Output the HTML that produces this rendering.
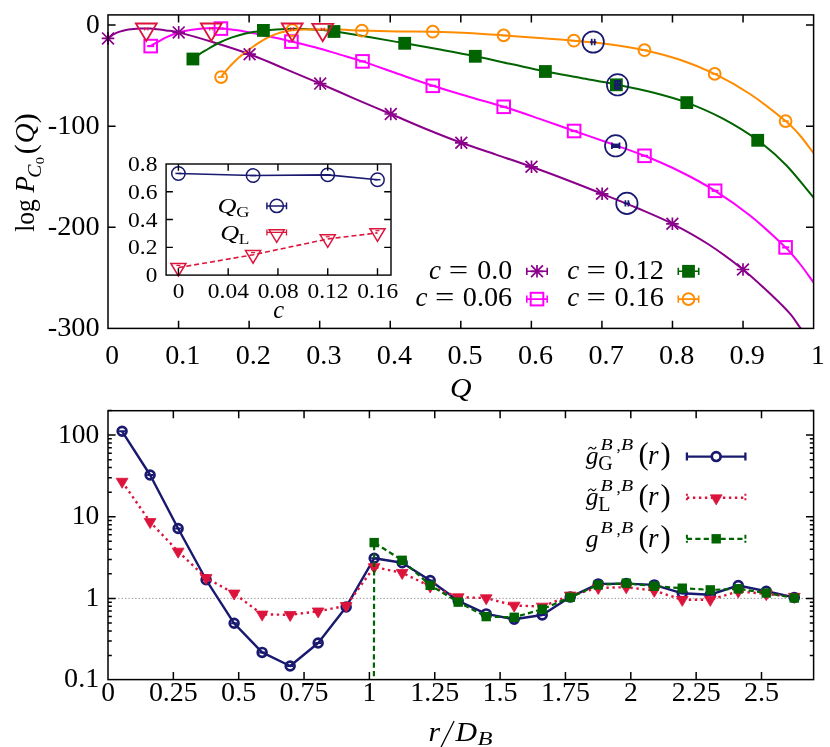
<!DOCTYPE html>
<html><head><meta charset="utf-8"><title>plot</title>
<style>html,body{margin:0;padding:0;background:#fff;}svg{display:block;will-change:transform;transform:translateZ(0);}text{font-family:"Liberation Serif",serif;fill:#000;}.it{font-style:italic;}</style></head><body>
<svg width="830" height="747" viewBox="0 0 830 747">
<rect x="0" y="0" width="830" height="747" fill="#fff"/>
<defs><clipPath id="ct"><rect x="108" y="14.9" width="705.6" height="313.5"/></clipPath>
<clipPath id="cb"><rect x="108" y="410.7" width="705.6" height="268.9"/></clipPath></defs>
<g clip-path="url(#ct)" fill="none" stroke-width="2.0" stroke-linecap="butt" stroke-linejoin="round">
<path d="M108,38.4 C109.67,37.13 111.33,35.59 113,34.6 C114.97,33.43 116.93,32.55 118.9,31.9 C122.1,30.85 125.3,30.01 128.5,29.5 C132.37,28.88 136.23,28.66 140.1,28.5 C143.4,28.36 146.7,28.45 150,28.6 C152.47,28.71 154.93,29.02 157.4,29.3 C160.3,29.62 163.2,29.98 166.1,30.4 C170.3,31.01 174.5,31.34 178.7,32.4 C190.47,35.37 202.23,38.88 214,42.5 C225.87,46.15 237.73,49.8 249.6,54.2 C261.4,58.57 273.2,63.89 285,68.8 C296.73,73.69 308.47,78.57 320.2,83.6 C331.8,88.57 343.4,93.81 355,98.8 C366.93,103.94 378.87,108.92 390.8,114 C402.53,118.99 414.27,124.21 426,129 C437.77,133.81 449.53,138.5 461.3,142.8 C472.87,147.03 484.43,150.65 496,154.6 C507.83,158.65 519.67,162.57 531.5,166.8 C543.33,171.03 555.17,175.47 567,180 C578.7,184.47 590.4,189.12 602.1,193.8 C613.73,198.45 625.37,203.04 637,208 C648.8,213.04 660.6,217.82 672.4,223.8 C684.27,229.82 696.13,236.32 708,244 C719.67,251.55 731.33,260.11 743,269.5 C752.67,277.28 762.33,286.41 772,295.5 C778,301.14 784,306.82 790,313.7 C793.57,317.79 797.13,323.59 800.7,328.4 C804.13,333.03 807.57,337.47 811,342" stroke="#8b008b"/>
<path d="M150.7,46.1 C152.13,45.2 153.57,44.22 155,43.4 C156.7,42.42 158.4,41.63 160.1,40.7 C162.1,39.6 164.1,38.17 166.1,37.3 C170.13,35.54 174.17,34 178.2,32.8 C182.2,31.6 186.2,30.8 190.2,30.1 C194.23,29.4 198.27,28.93 202.3,28.6 C206.3,28.27 210.3,28.14 214.3,28.1 C216.5,28.08 218.7,28.19 220.9,28.4 C226.53,28.93 232.17,29.44 237.8,30.3 C244.23,31.28 250.67,32.63 257.1,33.9 C263.53,35.17 269.97,36.49 276.4,37.9 C281.4,38.99 286.4,40.2 291.4,41.4 C299.27,43.3 307.13,45.06 315,47.2 C323.33,49.46 331.67,52.11 340,54.6 C347.5,56.84 355,58.91 362.5,61.4 C374,65.21 385.5,69.51 397,73.5 C408.93,77.64 420.87,81.93 432.8,85.8 C444.53,89.6 456.27,93.02 468,96.5 C479.9,100.02 491.8,103.1 503.7,106.8 C515.47,110.46 527.23,114.56 539,118.6 C550.7,122.62 562.4,126.92 574.1,131 C585.73,135.06 597.37,138.9 609,143 C620.83,147.17 632.67,151.05 644.5,155.8 C656.33,160.55 668.17,165.63 680,171.5 C691.7,177.3 703.4,183.45 715.1,190.8 C726.73,198.11 738.37,206.16 750,215.5 C761.87,225.03 773.73,235.89 785.6,247.4 C790.4,252.06 795.2,257.98 800,264 C804.53,269.68 809.07,276.33 813.6,282.5" stroke="#ff00ff"/>
<path d="M192.9,59 C194.77,57.6 196.63,56.07 198.5,54.8 C200.7,53.3 202.9,51.99 205.1,50.7 C209.6,48.06 214.1,45.22 218.6,43 C223.07,40.79 227.53,38.98 232,37.4 C236.5,35.81 241,34.58 245.5,33.5 C249.37,32.58 253.23,32.05 257.1,31.4 C259.2,31.05 261.3,30.67 263.4,30.5 C270.93,29.87 278.47,29.27 286,29 C292.43,28.77 298.87,28.8 305.3,29 C311.73,29.2 318.17,29.71 324.6,30.2 C327.73,30.44 330.87,30.72 334,31.2 C345.67,32.99 357.33,35 369,37 C380.9,39.04 392.8,41.19 404.7,43.3 C416.47,45.39 428.23,47.43 440,49.6 C451.77,51.77 463.53,53.91 475.3,56.3 C486.87,58.65 498.43,61.29 510,63.8 C521.8,66.36 533.6,69.14 545.4,71.5 C557.27,73.87 569.13,75.83 581,78 C592.97,80.19 604.93,82.19 616.9,84.6 C628.6,86.96 640.3,89.29 652,92.3 C663.6,95.29 675.2,98.31 686.8,102.6 C698.53,106.94 710.27,111.96 722,118.2 C733.9,124.53 745.8,131.6 757.7,140.3 C767.13,147.2 776.57,155.33 786,165 C795.2,174.43 804.4,186.73 813.6,197.6" stroke="#006400"/>
<path d="M221.1,77.1 C222.5,75.27 223.9,73.31 225.3,71.6 C226.9,69.64 228.5,67.79 230.1,66.1 C232.67,63.39 235.23,60.67 237.8,58.4 C240.7,55.84 243.6,53.78 246.5,51.6 C250.03,48.95 253.57,46.26 257.1,43.9 C260.3,41.76 263.5,39.76 266.7,38.1 C269.93,36.42 273.17,35.06 276.4,33.9 C279.6,32.76 282.8,31.94 286,31.2 C288.1,30.71 290.2,30.38 292.3,30.2 C296.53,29.84 300.77,29.65 305,29.6 C316.67,29.45 328.33,29.39 340,29.6 C347.3,29.73 354.6,30.37 361.9,30.6 C373.6,30.97 385.3,31.22 397,31.4 C408.93,31.59 420.87,31.43 432.8,31.7 C444.53,31.96 456.27,32.39 468,33 C479.87,33.62 491.73,34.56 503.6,35.4 C515.4,36.23 527.2,37.11 539,38 C550.63,38.88 562.27,39.65 573.9,40.7 C585.6,41.75 597.3,42.73 609,44.3 C620.83,45.89 632.67,47.62 644.5,50.2 C656.33,52.78 668.17,55.8 680,59.8 C691.57,63.7 703.13,68.25 714.7,73.9 C726.47,79.65 738.23,86.17 750,94 C761.87,101.9 773.73,111.25 785.6,121.1 C790.4,125.08 795.2,130 800,135.5 C804.53,140.7 809.07,147.3 813.6,153.2" stroke="#ff8c00"/>
</g>
<g>
<g stroke="#8b008b" stroke-width="1.7" fill="none"><path d="M108,32.1 V44.7 M101.7,38.4 H114.3 M102.08,32.48 L113.92,44.32 M102.08,44.32 L113.92,32.48"/></g>
<g stroke="#8b008b" stroke-width="1.7" fill="none"><path d="M178.7,26.1 V38.7 M172.4,32.4 H185 M172.78,26.48 L184.62,38.32 M172.78,38.32 L184.62,26.48"/></g>
<g stroke="#8b008b" stroke-width="1.7" fill="none"><path d="M249.6,47.9 V60.5 M243.3,54.2 H255.9 M243.68,48.28 L255.52,60.12 M243.68,60.12 L255.52,48.28"/></g>
<g stroke="#8b008b" stroke-width="1.7" fill="none"><path d="M320.2,77.3 V89.9 M313.9,83.6 H326.5 M314.28,77.68 L326.12,89.52 M314.28,89.52 L326.12,77.68"/></g>
<g stroke="#8b008b" stroke-width="1.7" fill="none"><path d="M390.8,107.7 V120.3 M384.5,114 H397.1 M384.88,108.08 L396.72,119.92 M384.88,119.92 L396.72,108.08"/></g>
<g stroke="#8b008b" stroke-width="1.7" fill="none"><path d="M461.3,136.5 V149.1 M455,142.8 H467.6 M455.38,136.88 L467.22,148.72 M455.38,148.72 L467.22,136.88"/></g>
<g stroke="#8b008b" stroke-width="1.7" fill="none"><path d="M531.5,160.5 V173.1 M525.2,166.8 H537.8 M525.58,160.88 L537.42,172.72 M525.58,172.72 L537.42,160.88"/></g>
<g stroke="#8b008b" stroke-width="1.7" fill="none"><path d="M602.1,187.5 V200.1 M595.8,193.8 H608.4 M596.18,187.88 L608.02,199.72 M596.18,199.72 L608.02,187.88"/></g>
<g stroke="#8b008b" stroke-width="1.7" fill="none"><path d="M672.4,217.5 V230.1 M666.1,223.8 H678.7 M666.48,217.88 L678.32,229.72 M666.48,229.72 L678.32,217.88"/></g>
<g stroke="#8b008b" stroke-width="1.7" fill="none"><path d="M743,263.2 V275.8 M736.7,269.5 H749.3 M737.08,263.58 L748.92,275.42 M737.08,275.42 L748.92,263.58"/></g>
<rect x="144.4" y="39.8" width="12.6" height="12.6" fill="none" stroke="#ff00ff" stroke-width="2.0"/><path d="M147.2,46.1 H154.2" stroke="#ff00ff" stroke-width="2.2" fill="none"/>
<rect x="214.6" y="22.3" width="12.6" height="12.6" fill="none" stroke="#ff00ff" stroke-width="2.0"/><path d="M217.4,28.6 H224.4" stroke="#ff00ff" stroke-width="2.2" fill="none"/>
<rect x="285.1" y="35.3" width="12.6" height="12.6" fill="none" stroke="#ff00ff" stroke-width="2.0"/><path d="M287.9,41.6 H294.9" stroke="#ff00ff" stroke-width="2.2" fill="none"/>
<rect x="356.2" y="55.1" width="12.6" height="12.6" fill="none" stroke="#ff00ff" stroke-width="2.0"/><path d="M359,61.4 H366" stroke="#ff00ff" stroke-width="2.2" fill="none"/>
<rect x="426.5" y="79.5" width="12.6" height="12.6" fill="none" stroke="#ff00ff" stroke-width="2.0"/><path d="M429.3,85.8 H436.3" stroke="#ff00ff" stroke-width="2.2" fill="none"/>
<rect x="497.4" y="100.5" width="12.6" height="12.6" fill="none" stroke="#ff00ff" stroke-width="2.0"/><path d="M500.2,106.8 H507.2" stroke="#ff00ff" stroke-width="2.2" fill="none"/>
<rect x="567.8" y="124.7" width="12.6" height="12.6" fill="none" stroke="#ff00ff" stroke-width="2.0"/><path d="M570.6,131 H577.6" stroke="#ff00ff" stroke-width="2.2" fill="none"/>
<rect x="638.2" y="149.5" width="12.6" height="12.6" fill="none" stroke="#ff00ff" stroke-width="2.0"/><path d="M641,155.8 H648" stroke="#ff00ff" stroke-width="2.2" fill="none"/>
<rect x="708.8" y="184.5" width="12.6" height="12.6" fill="none" stroke="#ff00ff" stroke-width="2.0"/><path d="M711.6,190.8 H718.6" stroke="#ff00ff" stroke-width="2.2" fill="none"/>
<rect x="779.3" y="241.1" width="12.6" height="12.6" fill="none" stroke="#ff00ff" stroke-width="2.0"/><path d="M782.1,247.4 H789.1" stroke="#ff00ff" stroke-width="2.2" fill="none"/>
<rect x="186.5" y="52.6" width="12.8" height="12.8" fill="#006400"/>
<rect x="257" y="24" width="12.8" height="12.8" fill="#006400"/>
<rect x="327.6" y="25.1" width="12.8" height="12.8" fill="#006400"/>
<rect x="398.3" y="36.9" width="12.8" height="12.8" fill="#006400"/>
<rect x="468.9" y="49.9" width="12.8" height="12.8" fill="#006400"/>
<rect x="539" y="65.1" width="12.8" height="12.8" fill="#006400"/>
<rect x="610" y="78.4" width="12.8" height="12.8" fill="#006400"/>
<rect x="680.4" y="96.2" width="12.8" height="12.8" fill="#006400"/>
<rect x="751.3" y="133.9" width="12.8" height="12.8" fill="#006400"/>
<circle cx="221.1" cy="77.1" r="5.9" fill="none" stroke="#ff8c00" stroke-width="2.0"/><path d="M217.9,77.1 H224.3" stroke="#ff8c00" stroke-width="1.6" fill="none"/>
<circle cx="292.3" cy="30.2" r="5.9" fill="none" stroke="#ff8c00" stroke-width="2.0"/><path d="M289.1,30.2 H295.5" stroke="#ff8c00" stroke-width="1.6" fill="none"/>
<circle cx="361.9" cy="30.7" r="5.9" fill="none" stroke="#ff8c00" stroke-width="2.0"/><path d="M358.7,30.7 H365.1" stroke="#ff8c00" stroke-width="1.6" fill="none"/>
<circle cx="432.8" cy="31.7" r="5.9" fill="none" stroke="#ff8c00" stroke-width="2.0"/><path d="M429.6,31.7 H436" stroke="#ff8c00" stroke-width="1.6" fill="none"/>
<circle cx="503.6" cy="35.4" r="5.9" fill="none" stroke="#ff8c00" stroke-width="2.0"/><path d="M500.4,35.4 H506.8" stroke="#ff8c00" stroke-width="1.6" fill="none"/>
<circle cx="573.9" cy="40.7" r="5.9" fill="none" stroke="#ff8c00" stroke-width="2.0"/><path d="M570.7,40.7 H577.1" stroke="#ff8c00" stroke-width="1.6" fill="none"/>
<circle cx="644.5" cy="50.2" r="5.9" fill="none" stroke="#ff8c00" stroke-width="2.0"/><path d="M641.3,50.2 H647.7" stroke="#ff8c00" stroke-width="1.6" fill="none"/>
<circle cx="714.7" cy="73.9" r="5.9" fill="none" stroke="#ff8c00" stroke-width="2.0"/><path d="M711.5,73.9 H717.9" stroke="#ff8c00" stroke-width="1.6" fill="none"/>
<circle cx="785.6" cy="121.1" r="5.9" fill="none" stroke="#ff8c00" stroke-width="2.0"/><path d="M782.4,121.1 H788.8" stroke="#ff8c00" stroke-width="1.6" fill="none"/>
</g>
<circle cx="593.2" cy="42" r="10.7" fill="none" stroke="#191970" stroke-width="1.7"/><path d="M590,42 H596.4 M591.7,38.8 V45.2 M594.7,38.8 V45.2" stroke="#191970" stroke-width="1.7" fill="none"/>
<circle cx="617.6" cy="84.8" r="10.7" fill="none" stroke="#191970" stroke-width="1.7"/><rect x="614.1" y="80" width="7.0" height="9.6" fill="#191970"/><rect x="615.7" y="81.9" width="1.2" height="1.8" fill="#006400" opacity="0.8"/><rect x="615.7" y="85.9" width="1.2" height="1.8" fill="#006400" opacity="0.8"/><rect x="618.3" y="81.9" width="1.2" height="1.8" fill="#006400" opacity="0.8"/><rect x="618.3" y="85.9" width="1.2" height="1.8" fill="#006400" opacity="0.8"/>
<circle cx="615.7" cy="145.8" r="10.7" fill="none" stroke="#191970" stroke-width="1.7"/><rect x="611.5" y="143.6" width="8.4" height="4.4" fill="#191970"/><path d="M611.9,142.5 V149.1 M619.5,142.5 V149.1" stroke="#191970" stroke-width="1.8" fill="none"/>
<circle cx="626.9" cy="203.4" r="10.7" fill="none" stroke="#191970" stroke-width="1.7"/><path d="M623.7,203.4 H630.1 M625.4,200.2 V206.6 M628.4,200.2 V206.6" stroke="#191970" stroke-width="1.7" fill="none"/>
<path d="M135.86,23.5 L156.74,23.5 L146.3,40.9 Z" fill="none" stroke="#dc143c" stroke-width="1.8" stroke-linejoin="miter"/><path d="M144.7,28.8 H147.9 M144.7,27.3 V30.7 M147.9,27.3 V30.7" stroke="#dc143c" stroke-width="1.0" fill="none" opacity="0.85"/>
<path d="M200.86,23.5 L221.74,23.5 L211.3,40.9 Z" fill="none" stroke="#dc143c" stroke-width="1.8" stroke-linejoin="miter"/><path d="M209.7,28.8 H212.9 M209.7,27.3 V30.7 M212.9,27.3 V30.7" stroke="#dc143c" stroke-width="1.0" fill="none" opacity="0.85"/>
<path d="M281.76,23.5 L302.64,23.5 L292.2,40.9 Z" fill="none" stroke="#dc143c" stroke-width="1.8" stroke-linejoin="miter"/><path d="M290.6,28.8 H293.8 M290.6,27.3 V30.7 M293.8,27.3 V30.7" stroke="#dc143c" stroke-width="1.0" fill="none" opacity="0.85"/>
<path d="M312.26,23.8 L333.14,23.8 L322.7,41.2 Z" fill="none" stroke="#dc143c" stroke-width="1.8" stroke-linejoin="miter"/><path d="M321.1,29.1 H324.3 M321.1,27.6 V31 M324.3,27.6 V31" stroke="#dc143c" stroke-width="1.0" fill="none" opacity="0.85"/>
<g stroke="#000" stroke-width="1.5" fill="none">
<rect x="108" y="14.9" width="705.6" height="313.5"/>
<path d="M178.56,328.4 V320.8 M178.56,14.9 V22.5 M249.12,328.4 V320.8 M249.12,14.9 V22.5 M319.68,328.4 V320.8 M319.68,14.9 V22.5 M390.24,328.4 V320.8 M390.24,14.9 V22.5 M460.8,328.4 V320.8 M460.8,14.9 V22.5 M531.36,328.4 V320.8 M531.36,14.9 V22.5 M601.92,328.4 V320.8 M601.92,14.9 V22.5 M672.48,328.4 V320.8 M672.48,14.9 V22.5 M743.04,328.4 V320.8 M743.04,14.9 V22.5 M108,25 H115.6 M813.6,25 H806 M108,126.13 H115.6 M813.6,126.13 H806 M108,227.27 H115.6 M813.6,227.27 H806 "/>
</g>
<text x="112.2" y="364" font-size="27.3" text-anchor="middle" textLength="13.75" lengthAdjust="spacingAndGlyphs">0</text>
<text x="182.76" y="364" font-size="27.3" text-anchor="middle" textLength="35.2" lengthAdjust="spacingAndGlyphs">0.1</text>
<text x="253.32" y="364" font-size="27.3" text-anchor="middle" textLength="35.2" lengthAdjust="spacingAndGlyphs">0.2</text>
<text x="323.88" y="364" font-size="27.3" text-anchor="middle" textLength="35.2" lengthAdjust="spacingAndGlyphs">0.3</text>
<text x="394.44" y="364" font-size="27.3" text-anchor="middle" textLength="35.2" lengthAdjust="spacingAndGlyphs">0.4</text>
<text x="465" y="364" font-size="27.3" text-anchor="middle" textLength="35.2" lengthAdjust="spacingAndGlyphs">0.5</text>
<text x="535.56" y="364" font-size="27.3" text-anchor="middle" textLength="35.2" lengthAdjust="spacingAndGlyphs">0.6</text>
<text x="606.12" y="364" font-size="27.3" text-anchor="middle" textLength="35.2" lengthAdjust="spacingAndGlyphs">0.7</text>
<text x="676.68" y="364" font-size="27.3" text-anchor="middle" textLength="35.2" lengthAdjust="spacingAndGlyphs">0.8</text>
<text x="747.24" y="364" font-size="27.3" text-anchor="middle" textLength="35.2" lengthAdjust="spacingAndGlyphs">0.9</text>
<text x="817.8" y="364" font-size="27.3" text-anchor="middle" textLength="13.75" lengthAdjust="spacingAndGlyphs">1</text>
<text x="99.7" y="32.8" font-size="27.3" text-anchor="end" textLength="13.75" lengthAdjust="spacingAndGlyphs">0</text>
<text x="99.7" y="133.93" font-size="27.3" text-anchor="end" textLength="51.95" lengthAdjust="spacingAndGlyphs">-100</text>
<text x="99.7" y="235.07" font-size="27.3" text-anchor="end" textLength="51.95" lengthAdjust="spacingAndGlyphs">-200</text>
<text x="99.7" y="336.2" font-size="27.3" text-anchor="end" textLength="51.95" lengthAdjust="spacingAndGlyphs">-300</text>
<text class="it" x="460.9" y="396.5" font-size="27.5" text-anchor="middle" textLength="21.6" lengthAdjust="spacingAndGlyphs">Q</text>
<g transform="translate(34.4,231.8) rotate(-90)"><text x="0" y="0" font-size="27" textLength="32.5" lengthAdjust="spacingAndGlyphs">log</text><text class="it" x="39.2" y="0" font-size="27">P</text><text class="it" x="54.0" y="6.4" font-size="18" textLength="13.2" lengthAdjust="spacingAndGlyphs">C</text><text x="67.6" y="9.6" font-size="12.5" textLength="7.2" lengthAdjust="spacingAndGlyphs">0</text><text x="77.6" y="0.6" font-size="30">(</text><text class="it" x="88.6" y="0" font-size="27.5">Q</text><text x="108.6" y="0.6" font-size="30">)</text></g>
<text class="it" x="429.1" y="278.8" font-size="27">c</text><text x="448.7" y="278.8" font-size="27" textLength="19.4" lengthAdjust="spacingAndGlyphs">=</text><text x="477.3" y="278.8" font-size="26.5" textLength="34.9" lengthAdjust="spacingAndGlyphs">0.0</text>
<text class="it" x="415.6" y="306" font-size="27">c</text><text x="434.9" y="306" font-size="27" textLength="19.4" lengthAdjust="spacingAndGlyphs">=</text><text x="462.8" y="306" font-size="26.5" textLength="49.4" lengthAdjust="spacingAndGlyphs">0.06</text>
<text class="it" x="567.3" y="278.8" font-size="27">c</text><text x="586.6" y="278.8" font-size="27" textLength="19.4" lengthAdjust="spacingAndGlyphs">=</text><text x="614.5" y="278.8" font-size="26.5" textLength="49.4" lengthAdjust="spacingAndGlyphs">0.12</text>
<text class="it" x="567.3" y="306" font-size="27">c</text><text x="586.6" y="306" font-size="27" textLength="19.4" lengthAdjust="spacingAndGlyphs">=</text><text x="614.5" y="306" font-size="26.5" textLength="49.4" lengthAdjust="spacingAndGlyphs">0.16</text>
<path d="M526.8,271.3 H547.2 M526.8,267.7 V274.9 M547.2,267.7 V274.9" stroke="#8b008b" stroke-width="1.6" fill="none"/>
<g stroke="#8b008b" stroke-width="1.7" fill="none"><path d="M537,265 V277.6 M530.7,271.3 H543.3 M531.08,265.38 L542.92,277.22 M531.08,277.22 L542.92,265.38"/></g>
<path d="M526.8,299.1 H547.2 M526.8,295.5 V302.7 M547.2,295.5 V302.7" stroke="#ff00ff" stroke-width="1.6" fill="none"/>
<rect x="530.7" y="292.8" width="12.6" height="12.6" fill="none" stroke="#ff00ff" stroke-width="2.0"/>
<path d="M678.3,271.3 H698.7 M678.3,267.7 V274.9 M698.7,267.7 V274.9" stroke="#006400" stroke-width="1.6" fill="none"/>
<rect x="682.1" y="264.9" width="12.8" height="12.8" fill="#006400"/>
<path d="M678.3,299.1 H698.7 M678.3,295.5 V302.7 M698.7,295.5 V302.7" stroke="#ff8c00" stroke-width="1.6" fill="none"/>
<circle cx="688.5" cy="299.1" r="5.9" fill="none" stroke="#ff8c00" stroke-width="2.0"/>
<rect x="166.1" y="164" width="224.9" height="111.1" fill="#fff" stroke="none"/>
<path d="M178.4,173.44 L253.06,175.53 L327.73,174.83 L377.5,179.69" stroke="#191970" stroke-width="1.6" fill="none"/>
<path d="M178.4,267.6 L253.06,254.82 L327.73,238.99 L377.5,232.88" stroke="#dc143c" stroke-width="1.6" fill="none" stroke-dasharray="5,3"/>
<circle cx="178.4" cy="173.44" r="6.7" fill="none" stroke="#191970" stroke-width="1.5"/>
<path d="M175.4,173.44 H181.4" stroke="#191970" stroke-width="1.5"/>
<circle cx="253.06" cy="175.53" r="6.7" fill="none" stroke="#191970" stroke-width="1.5"/>
<path d="M250.06,175.53 H256.06" stroke="#191970" stroke-width="1.5"/>
<circle cx="327.73" cy="174.83" r="6.7" fill="none" stroke="#191970" stroke-width="1.5"/>
<path d="M324.73,174.83 H330.73" stroke="#191970" stroke-width="1.5"/>
<circle cx="377.5" cy="179.69" r="6.7" fill="none" stroke="#191970" stroke-width="1.5"/>
<path d="M374.5,179.69 H380.5" stroke="#191970" stroke-width="1.5"/>
<path d="M170.84,263.4 L185.96,263.4 L178.4,276 Z" fill="none" stroke="#dc143c" stroke-width="1.5" stroke-linejoin="miter"/>
<path d="M176.4,265.4 H180.4" stroke="#dc143c" stroke-width="1.2"/>
<path d="M245.5,250.62 L260.62,250.62 L253.06,263.22 Z" fill="none" stroke="#dc143c" stroke-width="1.5" stroke-linejoin="miter"/>
<path d="M251.06,252.62 H255.06" stroke="#dc143c" stroke-width="1.2"/>
<path d="M320.17,234.79 L335.29,234.79 L327.73,247.39 Z" fill="none" stroke="#dc143c" stroke-width="1.5" stroke-linejoin="miter"/>
<path d="M325.73,236.79 H329.73" stroke="#dc143c" stroke-width="1.2"/>
<path d="M369.94,228.68 L385.06,228.68 L377.5,241.28 Z" fill="none" stroke="#dc143c" stroke-width="1.5" stroke-linejoin="miter"/>
<path d="M375.5,230.68 H379.5" stroke="#dc143c" stroke-width="1.2"/>
<g stroke="#000" stroke-width="1.4" fill="none">
<rect x="166.1" y="164" width="224.9" height="111.1"/>
<path d="M178.4,275.1 V268.3 M178.4,164 V170.8 M228.18,275.1 V268.3 M228.18,164 V170.8 M277.95,275.1 V268.3 M277.95,164 V170.8 M327.73,275.1 V268.3 M327.73,164 V170.8 M377.5,275.1 V268.3 M377.5,164 V170.8 M166.1,247.33 H172.9 M391,247.33 H384.2 M166.1,219.55 H172.9 M391,219.55 H384.2 M166.1,191.78 H172.9 M391,191.78 H384.2 "/>
</g>
<text x="157.4" y="282.1" font-size="20.5" text-anchor="end" textLength="11.6" lengthAdjust="spacingAndGlyphs">0</text>
<text x="157.4" y="254.33" font-size="20.5" text-anchor="end" textLength="29.4" lengthAdjust="spacingAndGlyphs">0.2</text>
<text x="157.4" y="226.55" font-size="20.5" text-anchor="end" textLength="29.4" lengthAdjust="spacingAndGlyphs">0.4</text>
<text x="157.4" y="198.78" font-size="20.5" text-anchor="end" textLength="29.4" lengthAdjust="spacingAndGlyphs">0.6</text>
<text x="157.4" y="171" font-size="20.5" text-anchor="end" textLength="29.4" lengthAdjust="spacingAndGlyphs">0.8</text>
<text x="178.6" y="297.6" font-size="20.5" text-anchor="middle" textLength="11.6" lengthAdjust="spacingAndGlyphs">0</text>
<text x="228.38" y="297.6" font-size="20.5" text-anchor="middle" textLength="41" lengthAdjust="spacingAndGlyphs">0.04</text>
<text x="278.15" y="297.6" font-size="20.5" text-anchor="middle" textLength="41" lengthAdjust="spacingAndGlyphs">0.08</text>
<text x="327.93" y="297.6" font-size="20.5" text-anchor="middle" textLength="41" lengthAdjust="spacingAndGlyphs">0.12</text>
<text x="377.7" y="297.6" font-size="20.5" text-anchor="middle" textLength="41" lengthAdjust="spacingAndGlyphs">0.16</text>
<text class="it" x="278.6" y="318.0" font-size="24.5" text-anchor="middle">c</text>
<text class="it" x="217.6" y="212.7" font-size="22" textLength="19" lengthAdjust="spacingAndGlyphs">Q</text><text x="236.2" y="216.8" font-size="15.5" textLength="13.2" lengthAdjust="spacingAndGlyphs">G</text>
<text class="it" x="220.2" y="239.7" font-size="22" textLength="19" lengthAdjust="spacingAndGlyphs">Q</text><text x="238.8" y="243.9" font-size="15.5" textLength="10.6" lengthAdjust="spacingAndGlyphs">L</text>
<path d="M266.9,205.9 H286.5 M266.9,202.5 V209.3 M286.5,202.5 V209.3" stroke="#191970" stroke-width="1.5" fill="none"/>
<circle cx="276.7" cy="205.9" r="6.7" fill="none" stroke="#191970" stroke-width="1.5"/>
<path d="M266.9,232.4 H286.5 M266.9,229.4 V235.4 M286.5,229.4 V235.4" stroke="#dc143c" stroke-width="1.3" fill="none"/>
<path d="M269.14,229.8 L284.26,229.8 L276.7,242.4 Z" fill="none" stroke="#dc143c" stroke-width="1.5" stroke-linejoin="miter"/>
<path d="M108,598.4 H813.6" stroke="#8c8c8c" stroke-width="0.9" stroke-dasharray="1.4,2.0" fill="none"/>
<g clip-path="url(#cb)" fill="none" stroke-linejoin="round">
<path d="M122.1,431.3 L150.11,475 L178.12,528.5 L206.12,579.8 L234.13,623.3 L262.14,652.4 L290.15,666 L318.16,643 L346.16,606.9 L374.17,558.3 L402.18,562.7 L430.19,580.5 L458.2,600.8 L486.2,613.9 L514.21,619.3 L542.22,615 L570.23,597.1 L598.24,583.9 L626.24,583.6 L654.25,584.9 L682.26,593.3 L710.27,594.7 L738.28,585.5 L766.28,591.3 L794.29,597.4" stroke="#191970" stroke-width="2.4"/>
<circle cx="122.1" cy="431.3" r="4.4" fill="none" stroke="#191970" stroke-width="2.7"/>
<path d="M119.1,431.3 H125.1" stroke="#191970" stroke-width="2.0"/>
<circle cx="150.11" cy="475" r="4.4" fill="none" stroke="#191970" stroke-width="2.7"/>
<path d="M147.11,475 H153.11" stroke="#191970" stroke-width="2.0"/>
<circle cx="178.12" cy="528.5" r="4.4" fill="none" stroke="#191970" stroke-width="2.7"/>
<path d="M175.12,528.5 H181.12" stroke="#191970" stroke-width="2.0"/>
<circle cx="206.12" cy="579.8" r="4.4" fill="none" stroke="#191970" stroke-width="2.7"/>
<path d="M203.12,579.8 H209.12" stroke="#191970" stroke-width="2.0"/>
<circle cx="234.13" cy="623.3" r="4.4" fill="none" stroke="#191970" stroke-width="2.7"/>
<path d="M231.13,623.3 H237.13" stroke="#191970" stroke-width="2.0"/>
<circle cx="262.14" cy="652.4" r="4.4" fill="none" stroke="#191970" stroke-width="2.7"/>
<path d="M259.14,652.4 H265.14" stroke="#191970" stroke-width="2.0"/>
<circle cx="290.15" cy="666" r="4.4" fill="none" stroke="#191970" stroke-width="2.7"/>
<path d="M287.15,666 H293.15" stroke="#191970" stroke-width="2.0"/>
<circle cx="318.16" cy="643" r="4.4" fill="none" stroke="#191970" stroke-width="2.7"/>
<path d="M315.16,643 H321.16" stroke="#191970" stroke-width="2.0"/>
<circle cx="346.16" cy="606.9" r="4.4" fill="none" stroke="#191970" stroke-width="2.7"/>
<path d="M343.16,606.9 H349.16" stroke="#191970" stroke-width="2.0"/>
<circle cx="374.17" cy="558.3" r="4.4" fill="none" stroke="#191970" stroke-width="2.7"/>
<path d="M371.17,558.3 H377.17" stroke="#191970" stroke-width="2.0"/>
<circle cx="402.18" cy="562.7" r="4.4" fill="none" stroke="#191970" stroke-width="2.7"/>
<path d="M399.18,562.7 H405.18" stroke="#191970" stroke-width="2.0"/>
<circle cx="430.19" cy="580.5" r="4.4" fill="none" stroke="#191970" stroke-width="2.7"/>
<path d="M427.19,580.5 H433.19" stroke="#191970" stroke-width="2.0"/>
<circle cx="458.2" cy="600.8" r="4.4" fill="none" stroke="#191970" stroke-width="2.7"/>
<path d="M455.2,600.8 H461.2" stroke="#191970" stroke-width="2.0"/>
<circle cx="486.2" cy="613.9" r="4.4" fill="none" stroke="#191970" stroke-width="2.7"/>
<path d="M483.2,613.9 H489.2" stroke="#191970" stroke-width="2.0"/>
<circle cx="514.21" cy="619.3" r="4.4" fill="none" stroke="#191970" stroke-width="2.7"/>
<path d="M511.21,619.3 H517.21" stroke="#191970" stroke-width="2.0"/>
<circle cx="542.22" cy="615" r="4.4" fill="none" stroke="#191970" stroke-width="2.7"/>
<path d="M539.22,615 H545.22" stroke="#191970" stroke-width="2.0"/>
<circle cx="570.23" cy="597.1" r="4.4" fill="none" stroke="#191970" stroke-width="2.7"/>
<path d="M567.23,597.1 H573.23" stroke="#191970" stroke-width="2.0"/>
<circle cx="598.24" cy="583.9" r="4.4" fill="none" stroke="#191970" stroke-width="2.7"/>
<path d="M595.24,583.9 H601.24" stroke="#191970" stroke-width="2.0"/>
<circle cx="626.24" cy="583.6" r="4.4" fill="none" stroke="#191970" stroke-width="2.7"/>
<path d="M623.24,583.6 H629.24" stroke="#191970" stroke-width="2.0"/>
<circle cx="654.25" cy="584.9" r="4.4" fill="none" stroke="#191970" stroke-width="2.7"/>
<path d="M651.25,584.9 H657.25" stroke="#191970" stroke-width="2.0"/>
<circle cx="682.26" cy="593.3" r="4.4" fill="none" stroke="#191970" stroke-width="2.7"/>
<path d="M679.26,593.3 H685.26" stroke="#191970" stroke-width="2.0"/>
<circle cx="710.27" cy="594.7" r="4.4" fill="none" stroke="#191970" stroke-width="2.7"/>
<path d="M707.27,594.7 H713.27" stroke="#191970" stroke-width="2.0"/>
<circle cx="738.28" cy="585.5" r="4.4" fill="none" stroke="#191970" stroke-width="2.7"/>
<path d="M735.28,585.5 H741.28" stroke="#191970" stroke-width="2.0"/>
<circle cx="766.28" cy="591.3" r="4.4" fill="none" stroke="#191970" stroke-width="2.7"/>
<path d="M763.28,591.3 H769.28" stroke="#191970" stroke-width="2.0"/>
<circle cx="794.29" cy="597.4" r="4.4" fill="none" stroke="#191970" stroke-width="2.7"/>
<path d="M791.29,597.4 H797.29" stroke="#191970" stroke-width="2.0"/>
<path d="M122.1,481.6 L150.11,521.9 L178.12,551.5 L206.12,577.9 L234.13,593.4 L262.14,614.4 L290.15,614.8 L318.16,611.3 L346.16,605.8 L374.17,567 L402.18,572.8 L430.19,586.3 L458.2,597.1 L486.2,598.1 L514.21,605.5 L542.22,606.5 L570.23,595.4 L598.24,587.9 L626.24,587.2 L654.25,590.6 L682.26,599.7 L710.27,599.7 L738.28,591.3 L766.28,594 L794.29,596.7" stroke="#dc143c" stroke-width="2.4" stroke-dasharray="2.4,3.6"/>
<path d="M116.2,478.27 L128,478.27 L122.1,488.27 Z" fill="#dc143c" stroke="#dc143c" stroke-width="0.8" stroke-linejoin="miter"/>
<path d="M144.21,518.57 L156.01,518.57 L150.11,528.57 Z" fill="#dc143c" stroke="#dc143c" stroke-width="0.8" stroke-linejoin="miter"/>
<path d="M172.22,548.17 L184.02,548.17 L178.12,558.17 Z" fill="#dc143c" stroke="#dc143c" stroke-width="0.8" stroke-linejoin="miter"/>
<path d="M200.22,574.57 L212.02,574.57 L206.12,584.57 Z" fill="#dc143c" stroke="#dc143c" stroke-width="0.8" stroke-linejoin="miter"/>
<path d="M228.23,590.07 L240.03,590.07 L234.13,600.07 Z" fill="#dc143c" stroke="#dc143c" stroke-width="0.8" stroke-linejoin="miter"/>
<path d="M256.24,611.07 L268.04,611.07 L262.14,621.07 Z" fill="#dc143c" stroke="#dc143c" stroke-width="0.8" stroke-linejoin="miter"/>
<path d="M284.25,611.47 L296.05,611.47 L290.15,621.47 Z" fill="#dc143c" stroke="#dc143c" stroke-width="0.8" stroke-linejoin="miter"/>
<path d="M312.26,607.97 L324.06,607.97 L318.16,617.97 Z" fill="#dc143c" stroke="#dc143c" stroke-width="0.8" stroke-linejoin="miter"/>
<path d="M340.26,602.47 L352.06,602.47 L346.16,612.47 Z" fill="#dc143c" stroke="#dc143c" stroke-width="0.8" stroke-linejoin="miter"/>
<path d="M368.27,563.67 L380.07,563.67 L374.17,573.67 Z" fill="#dc143c" stroke="#dc143c" stroke-width="0.8" stroke-linejoin="miter"/>
<path d="M396.28,569.47 L408.08,569.47 L402.18,579.47 Z" fill="#dc143c" stroke="#dc143c" stroke-width="0.8" stroke-linejoin="miter"/>
<path d="M424.29,582.97 L436.09,582.97 L430.19,592.97 Z" fill="#dc143c" stroke="#dc143c" stroke-width="0.8" stroke-linejoin="miter"/>
<path d="M452.3,593.77 L464.1,593.77 L458.2,603.77 Z" fill="#dc143c" stroke="#dc143c" stroke-width="0.8" stroke-linejoin="miter"/>
<path d="M480.3,594.77 L492.1,594.77 L486.2,604.77 Z" fill="#dc143c" stroke="#dc143c" stroke-width="0.8" stroke-linejoin="miter"/>
<path d="M508.31,602.17 L520.11,602.17 L514.21,612.17 Z" fill="#dc143c" stroke="#dc143c" stroke-width="0.8" stroke-linejoin="miter"/>
<path d="M536.32,603.17 L548.12,603.17 L542.22,613.17 Z" fill="#dc143c" stroke="#dc143c" stroke-width="0.8" stroke-linejoin="miter"/>
<path d="M564.33,592.07 L576.13,592.07 L570.23,602.07 Z" fill="#dc143c" stroke="#dc143c" stroke-width="0.8" stroke-linejoin="miter"/>
<path d="M592.34,584.57 L604.14,584.57 L598.24,594.57 Z" fill="#dc143c" stroke="#dc143c" stroke-width="0.8" stroke-linejoin="miter"/>
<path d="M620.34,583.87 L632.14,583.87 L626.24,593.87 Z" fill="#dc143c" stroke="#dc143c" stroke-width="0.8" stroke-linejoin="miter"/>
<path d="M648.35,587.27 L660.15,587.27 L654.25,597.27 Z" fill="#dc143c" stroke="#dc143c" stroke-width="0.8" stroke-linejoin="miter"/>
<path d="M676.36,596.37 L688.16,596.37 L682.26,606.37 Z" fill="#dc143c" stroke="#dc143c" stroke-width="0.8" stroke-linejoin="miter"/>
<path d="M704.37,596.37 L716.17,596.37 L710.27,606.37 Z" fill="#dc143c" stroke="#dc143c" stroke-width="0.8" stroke-linejoin="miter"/>
<path d="M732.38,587.97 L744.18,587.97 L738.28,597.97 Z" fill="#dc143c" stroke="#dc143c" stroke-width="0.8" stroke-linejoin="miter"/>
<path d="M760.38,590.67 L772.18,590.67 L766.28,600.67 Z" fill="#dc143c" stroke="#dc143c" stroke-width="0.8" stroke-linejoin="miter"/>
<path d="M788.39,593.37 L800.19,593.37 L794.29,603.37 Z" fill="#dc143c" stroke="#dc143c" stroke-width="0.8" stroke-linejoin="miter"/>
<path d="M373.87,684.6 L374.17,542.6 L402.18,560.3 L430.19,585.3 L458.2,602.1 L486.2,616.6 L514.21,617.3 L542.22,609.2 L570.23,597.3 L598.24,584.9 L626.24,583.2 L654.25,586.2 L682.26,588.2 L710.27,589.9 L738.28,588.9 L766.28,593 L794.29,598" stroke="#006400" stroke-width="2.2" stroke-dasharray="5.2,3.2"/>
<rect x="369.47" y="537.9" width="9.4" height="9.4" fill="#006400"/>
<rect x="397.48" y="555.6" width="9.4" height="9.4" fill="#006400"/>
<rect x="425.49" y="580.6" width="9.4" height="9.4" fill="#006400"/>
<rect x="453.5" y="597.4" width="9.4" height="9.4" fill="#006400"/>
<rect x="481.5" y="611.9" width="9.4" height="9.4" fill="#006400"/>
<rect x="509.51" y="612.6" width="9.4" height="9.4" fill="#006400"/>
<rect x="537.52" y="604.5" width="9.4" height="9.4" fill="#006400"/>
<rect x="565.53" y="592.6" width="9.4" height="9.4" fill="#006400"/>
<rect x="593.54" y="580.2" width="9.4" height="9.4" fill="#006400"/>
<rect x="621.54" y="578.5" width="9.4" height="9.4" fill="#006400"/>
<rect x="649.55" y="581.5" width="9.4" height="9.4" fill="#006400"/>
<rect x="677.56" y="583.5" width="9.4" height="9.4" fill="#006400"/>
<rect x="705.57" y="585.2" width="9.4" height="9.4" fill="#006400"/>
<rect x="733.58" y="584.2" width="9.4" height="9.4" fill="#006400"/>
<rect x="761.58" y="588.3" width="9.4" height="9.4" fill="#006400"/>
<rect x="789.59" y="593.3" width="9.4" height="9.4" fill="#006400"/>
</g>
<g stroke="#000" stroke-width="1.5" fill="none">
<rect x="108" y="410.7" width="705.6" height="268.9"/>
<path d="M173.35,679.6 V672 M173.35,410.7 V418.3 M238.7,679.6 V672 M238.7,410.7 V418.3 M304.05,679.6 V672 M304.05,410.7 V418.3 M369.4,679.6 V672 M369.4,410.7 V418.3 M434.75,679.6 V672 M434.75,410.7 V418.3 M500.1,679.6 V672 M500.1,410.7 V418.3 M565.45,679.6 V672 M565.45,410.7 V418.3 M630.8,679.6 V672 M630.8,410.7 V418.3 M696.15,679.6 V672 M696.15,410.7 V418.3 M761.5,679.6 V672 M761.5,410.7 V418.3 M108,598.4 H115.6 M813.6,598.4 H806 M108,516.75 H115.6 M813.6,516.75 H806 M108,435.1 H115.6 M813.6,435.1 H806 M108,655.47 H111.8 M813.6,655.47 H809.8 M108,641.09 H111.8 M813.6,641.09 H809.8 M108,630.89 H111.8 M813.6,630.89 H809.8 M108,622.98 H111.8 M813.6,622.98 H809.8 M108,616.51 H111.8 M813.6,616.51 H809.8 M108,611.05 H111.8 M813.6,611.05 H809.8 M108,606.31 H111.8 M813.6,606.31 H809.8 M108,602.14 H111.8 M813.6,602.14 H809.8 M108,573.82 H111.8 M813.6,573.82 H809.8 M108,559.44 H111.8 M813.6,559.44 H809.8 M108,549.24 H111.8 M813.6,549.24 H809.8 M108,541.33 H111.8 M813.6,541.33 H809.8 M108,534.86 H111.8 M813.6,534.86 H809.8 M108,529.4 H111.8 M813.6,529.4 H809.8 M108,524.66 H111.8 M813.6,524.66 H809.8 M108,520.49 H111.8 M813.6,520.49 H809.8 M108,492.17 H111.8 M813.6,492.17 H809.8 M108,477.79 H111.8 M813.6,477.79 H809.8 M108,467.59 H111.8 M813.6,467.59 H809.8 M108,459.68 H111.8 M813.6,459.68 H809.8 M108,453.21 H111.8 M813.6,453.21 H809.8 M108,447.75 H111.8 M813.6,447.75 H809.8 M108,443.01 H111.8 M813.6,443.01 H809.8 M108,438.84 H111.8 M813.6,438.84 H809.8 M108,410.52 H111.8 M813.6,410.52 H809.8 "/>
</g>
<text x="108" y="700.6" font-size="27.3" text-anchor="middle" textLength="13.75" lengthAdjust="spacingAndGlyphs">0</text>
<text x="173.35" y="700.6" font-size="27.3" text-anchor="middle" textLength="48.95" lengthAdjust="spacingAndGlyphs">0.25</text>
<text x="238.7" y="700.6" font-size="27.3" text-anchor="middle" textLength="35.2" lengthAdjust="spacingAndGlyphs">0.5</text>
<text x="304.05" y="700.6" font-size="27.3" text-anchor="middle" textLength="48.95" lengthAdjust="spacingAndGlyphs">0.75</text>
<text x="369.4" y="700.6" font-size="27.3" text-anchor="middle" textLength="13.75" lengthAdjust="spacingAndGlyphs">1</text>
<text x="434.75" y="700.6" font-size="27.3" text-anchor="middle" textLength="48.95" lengthAdjust="spacingAndGlyphs">1.25</text>
<text x="500.1" y="700.6" font-size="27.3" text-anchor="middle" textLength="35.2" lengthAdjust="spacingAndGlyphs">1.5</text>
<text x="565.45" y="700.6" font-size="27.3" text-anchor="middle" textLength="48.95" lengthAdjust="spacingAndGlyphs">1.75</text>
<text x="630.8" y="700.6" font-size="27.3" text-anchor="middle" textLength="13.75" lengthAdjust="spacingAndGlyphs">2</text>
<text x="696.15" y="700.6" font-size="27.3" text-anchor="middle" textLength="48.95" lengthAdjust="spacingAndGlyphs">2.25</text>
<text x="761.5" y="700.6" font-size="27.3" text-anchor="middle" textLength="35.2" lengthAdjust="spacingAndGlyphs">2.5</text>
<text x="99.3" y="442.5" font-size="27.3" text-anchor="end" textLength="41.25" lengthAdjust="spacingAndGlyphs">100</text>
<text x="99.3" y="524.15" font-size="27.3" text-anchor="end" textLength="27.5" lengthAdjust="spacingAndGlyphs">10</text>
<text x="99.3" y="605.8" font-size="27.3" text-anchor="end" textLength="13.75" lengthAdjust="spacingAndGlyphs">1</text>
<text x="99.3" y="686.65" font-size="27.3" text-anchor="end" textLength="35.2" lengthAdjust="spacingAndGlyphs">0.1</text>
<text class="it" x="428.4" y="740.9" font-size="27" textLength="11.6" lengthAdjust="spacingAndGlyphs">r</text><path d="M454.1,721.0 L440.6,748" stroke="#000" stroke-width="1.25" fill="none"/><text class="it" x="455.4" y="740.9" font-size="27" textLength="21.6" lengthAdjust="spacingAndGlyphs">D</text><text class="it" x="477.6" y="745.0" font-size="19.5" textLength="15" lengthAdjust="spacingAndGlyphs">B</text>
<text class="it" x="585.8" y="463.6" font-size="25.5">g</text><path d="M588.2,449.5 c1.6,-2.6 3.0,-2.6 4.0,-1.3 s2.4,1.3 4.0,-1.3" fill="none" stroke="#000" stroke-width="1.1"/><text class="it" x="600.6" y="449.6" font-size="16.5" textLength="12.2" lengthAdjust="spacingAndGlyphs">B</text><text x="616.4" y="451.4" font-size="17">,</text><text class="it" x="621.0" y="449.6" font-size="16.5" textLength="12.2" lengthAdjust="spacingAndGlyphs">B</text><text x="598.2" y="469.6" font-size="20">G</text><text x="638.4" y="464.1" font-size="30.5">(</text><text class="it" x="648.0" y="463.6" font-size="27">r</text><text x="660.6" y="464.1" font-size="30.5">)</text>
<text class="it" x="585.8" y="505.2" font-size="25.5">g</text><path d="M588.2,491.1 c1.6,-2.6 3.0,-2.6 4.0,-1.3 s2.4,1.3 4.0,-1.3" fill="none" stroke="#000" stroke-width="1.1"/><text class="it" x="600.6" y="491.2" font-size="16.5" textLength="12.2" lengthAdjust="spacingAndGlyphs">B</text><text x="616.4" y="493" font-size="17">,</text><text class="it" x="621.0" y="491.2" font-size="16.5" textLength="12.2" lengthAdjust="spacingAndGlyphs">B</text><text x="598.2" y="511.2" font-size="20">L</text><text x="638.4" y="505.7" font-size="30.5">(</text><text class="it" x="648.0" y="505.2" font-size="27">r</text><text x="660.6" y="505.7" font-size="30.5">)</text>
<text class="it" x="585.8" y="546.8" font-size="25.5">g</text><text class="it" x="600.6" y="532.8" font-size="16.5" textLength="12.2" lengthAdjust="spacingAndGlyphs">B</text><text x="616.4" y="534.6" font-size="17">,</text><text class="it" x="621.0" y="532.8" font-size="16.5" textLength="12.2" lengthAdjust="spacingAndGlyphs">B</text><text x="638.4" y="547.3" font-size="30.5">(</text><text class="it" x="648.0" y="546.8" font-size="27">r</text><text x="660.6" y="547.3" font-size="30.5">)</text>
<path d="M686.9,456.6 H745.4 M686.9,452.6 V460.6 M745.4,452.6 V460.6" stroke="#191970" stroke-width="2.3" fill="none"/>
<circle cx="716.2" cy="456.6" r="4.4" fill="#fff" stroke="#191970" stroke-width="2.7"/>
<path d="M686.9,497.8 H745.4" stroke="#dc143c" stroke-width="2.4" stroke-dasharray="2.4,3.6" fill="none"/>
<path d="M686.9,493.8 V501.8 M745.4,493.8 V501.8" stroke="#dc143c" stroke-width="2" stroke-dasharray="2,2.5" fill="none"/>
<path d="M710.3,494.87 L722.1,494.87 L716.2,504.87 Z" fill="#dc143c" stroke="#dc143c" stroke-width="0.8" stroke-linejoin="miter"/>
<path d="M686.9,538.8 H745.4" stroke="#006400" stroke-width="2.2" stroke-dasharray="5.2,3.2" fill="none"/>
<path d="M686.9,534.8 V542.8 M745.4,534.8 V542.8" stroke="#006400" stroke-width="2" stroke-dasharray="4,2" fill="none"/>
<rect x="711.5" y="534.1" width="9.4" height="9.4" fill="#006400"/>
</svg></body></html>
